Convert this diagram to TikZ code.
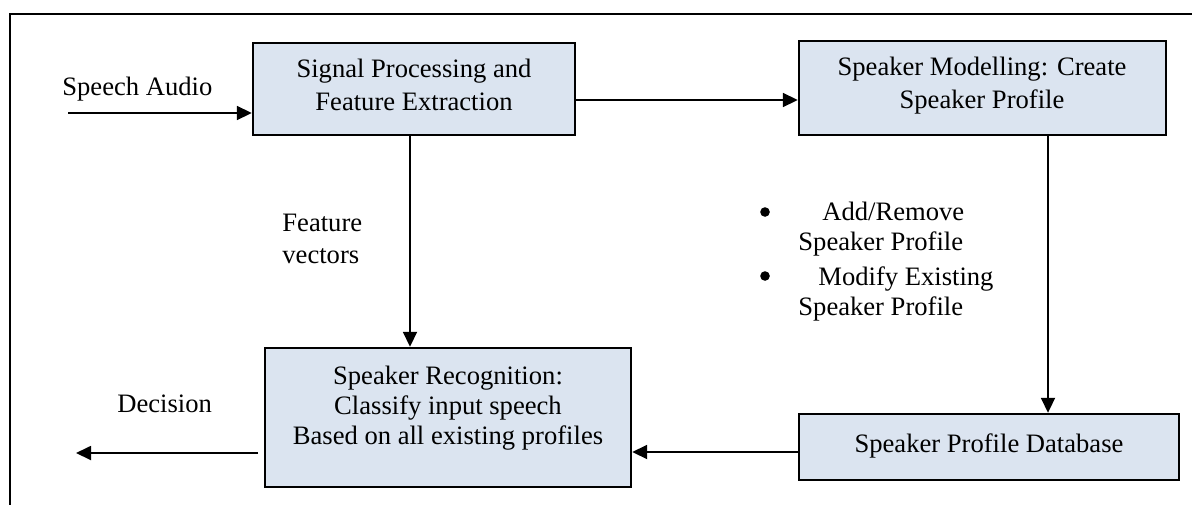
\documentclass[tikz,border=0pt]{standalone}
\usepackage{fontspec}
\setmainfont{Liberation Serif}
\usetikzlibrary{arrows.meta}
\definecolor{boxfill}{RGB}{219,228,240}
\newcommand\mlines[2]{{\fontsize{13.3}{#1}\selectfont\begin{tabular}[t]{@{}c@{}}#2\end{tabular}}}
\begin{document}
\begin{tikzpicture}[x=0.5pt,y=-0.5pt,
  box/.style={draw=black, line width=1.2pt, fill=boxfill, inner sep=0pt},
  lbl/.style={font=\fontsize{13.3}{15.5}\selectfont, inner sep=0pt},
  bulletdot/.style={circle, fill=black, inner sep=0pt, minimum size=4.8pt},
  conn/.style={line width=0.9pt, -{Triangle[length=7.5pt,width=7pt]}},
]
\useasboundingbox (0,0) rectangle (1192,504);
\clip (0,0) rectangle (1192,504);
\fill[white] (0,0) rectangle (1192,504);
\draw[line width=1pt] (1200,14) -- (10,14) -- (10,510);

% boxes
\node[box, minimum width=161pt, minimum height=46pt] (sig) at (414,89) {};
\node[lbl, anchor=base] (sigT) at (414,77) {\mlines{16.5pt}{Signal Processing and\\Feature Extraction}};
\node[box, minimum width=183.5pt, minimum height=47pt] (mod) at (982.5,88) {};
\node[lbl, anchor=base] (modT) at (982,75) {\mlines{16.5pt}{Speaker Modelling: Create\\Speaker Profile}};
\node[box, minimum width=183pt, minimum height=69.5pt] (rec) at (448,417.5) {};
\node[lbl, anchor=base] (recT) at (448,384) {\mlines{15pt}{Speaker Recognition:\\Classify input speech\\Based on all existing profiles}};
\node[box, minimum width=190pt, minimum height=33pt] (db) at (989,447) {};
\node[lbl, anchor=base] (dbT) at (989,452) {Speaker Profile Database};

% free labels
\node[lbl, anchor=base west] (sa) at (62,95) {Speech Audio};
\node[lbl, anchor=base west] (dec) at (117,412) {Decision};
\node[lbl, anchor=base west] (fv1) at (282,231) {Feature};
\node[lbl, anchor=base west] (fv2) at (282,263) {vectors};
\node[bulletdot] (b1) at (765,212) {};
\node[lbl, anchor=base west] (b1a) at (822,220) {Add/Remove};
\node[lbl, anchor=base west] (b1b) at (798,250) {Speaker Profile};
\node[bulletdot] (b2) at (765,276) {};
\node[lbl, anchor=base west] (b2a) at (818,285) {Modify Existing};
\node[lbl, anchor=base west] (b2b) at (798,315) {Speaker Profile};

% connectors
\coordinate (in) at (68,113);
\draw[conn] (in) -- (in -| sig.west);
\coordinate (r1) at (0,100);
\draw[conn] (sig.east |- r1) -- (mod.west |- r1);
\coordinate (c1) at (410,0);
\draw[conn] (sig.south -| c1) -- (rec.north -| c1);
\coordinate (c2) at (1048,0);
\draw[conn] (mod.south -| c2) -- (db.north -| c2);
\coordinate (r2) at (0,452);
\draw[conn] (db.west |- r2) -- (rec.east |- r2);
\coordinate (outS) at (258,453);
\coordinate (outE) at (76,453);
\draw[conn] (outS) -- (outE);
\end{tikzpicture}
\end{document}
